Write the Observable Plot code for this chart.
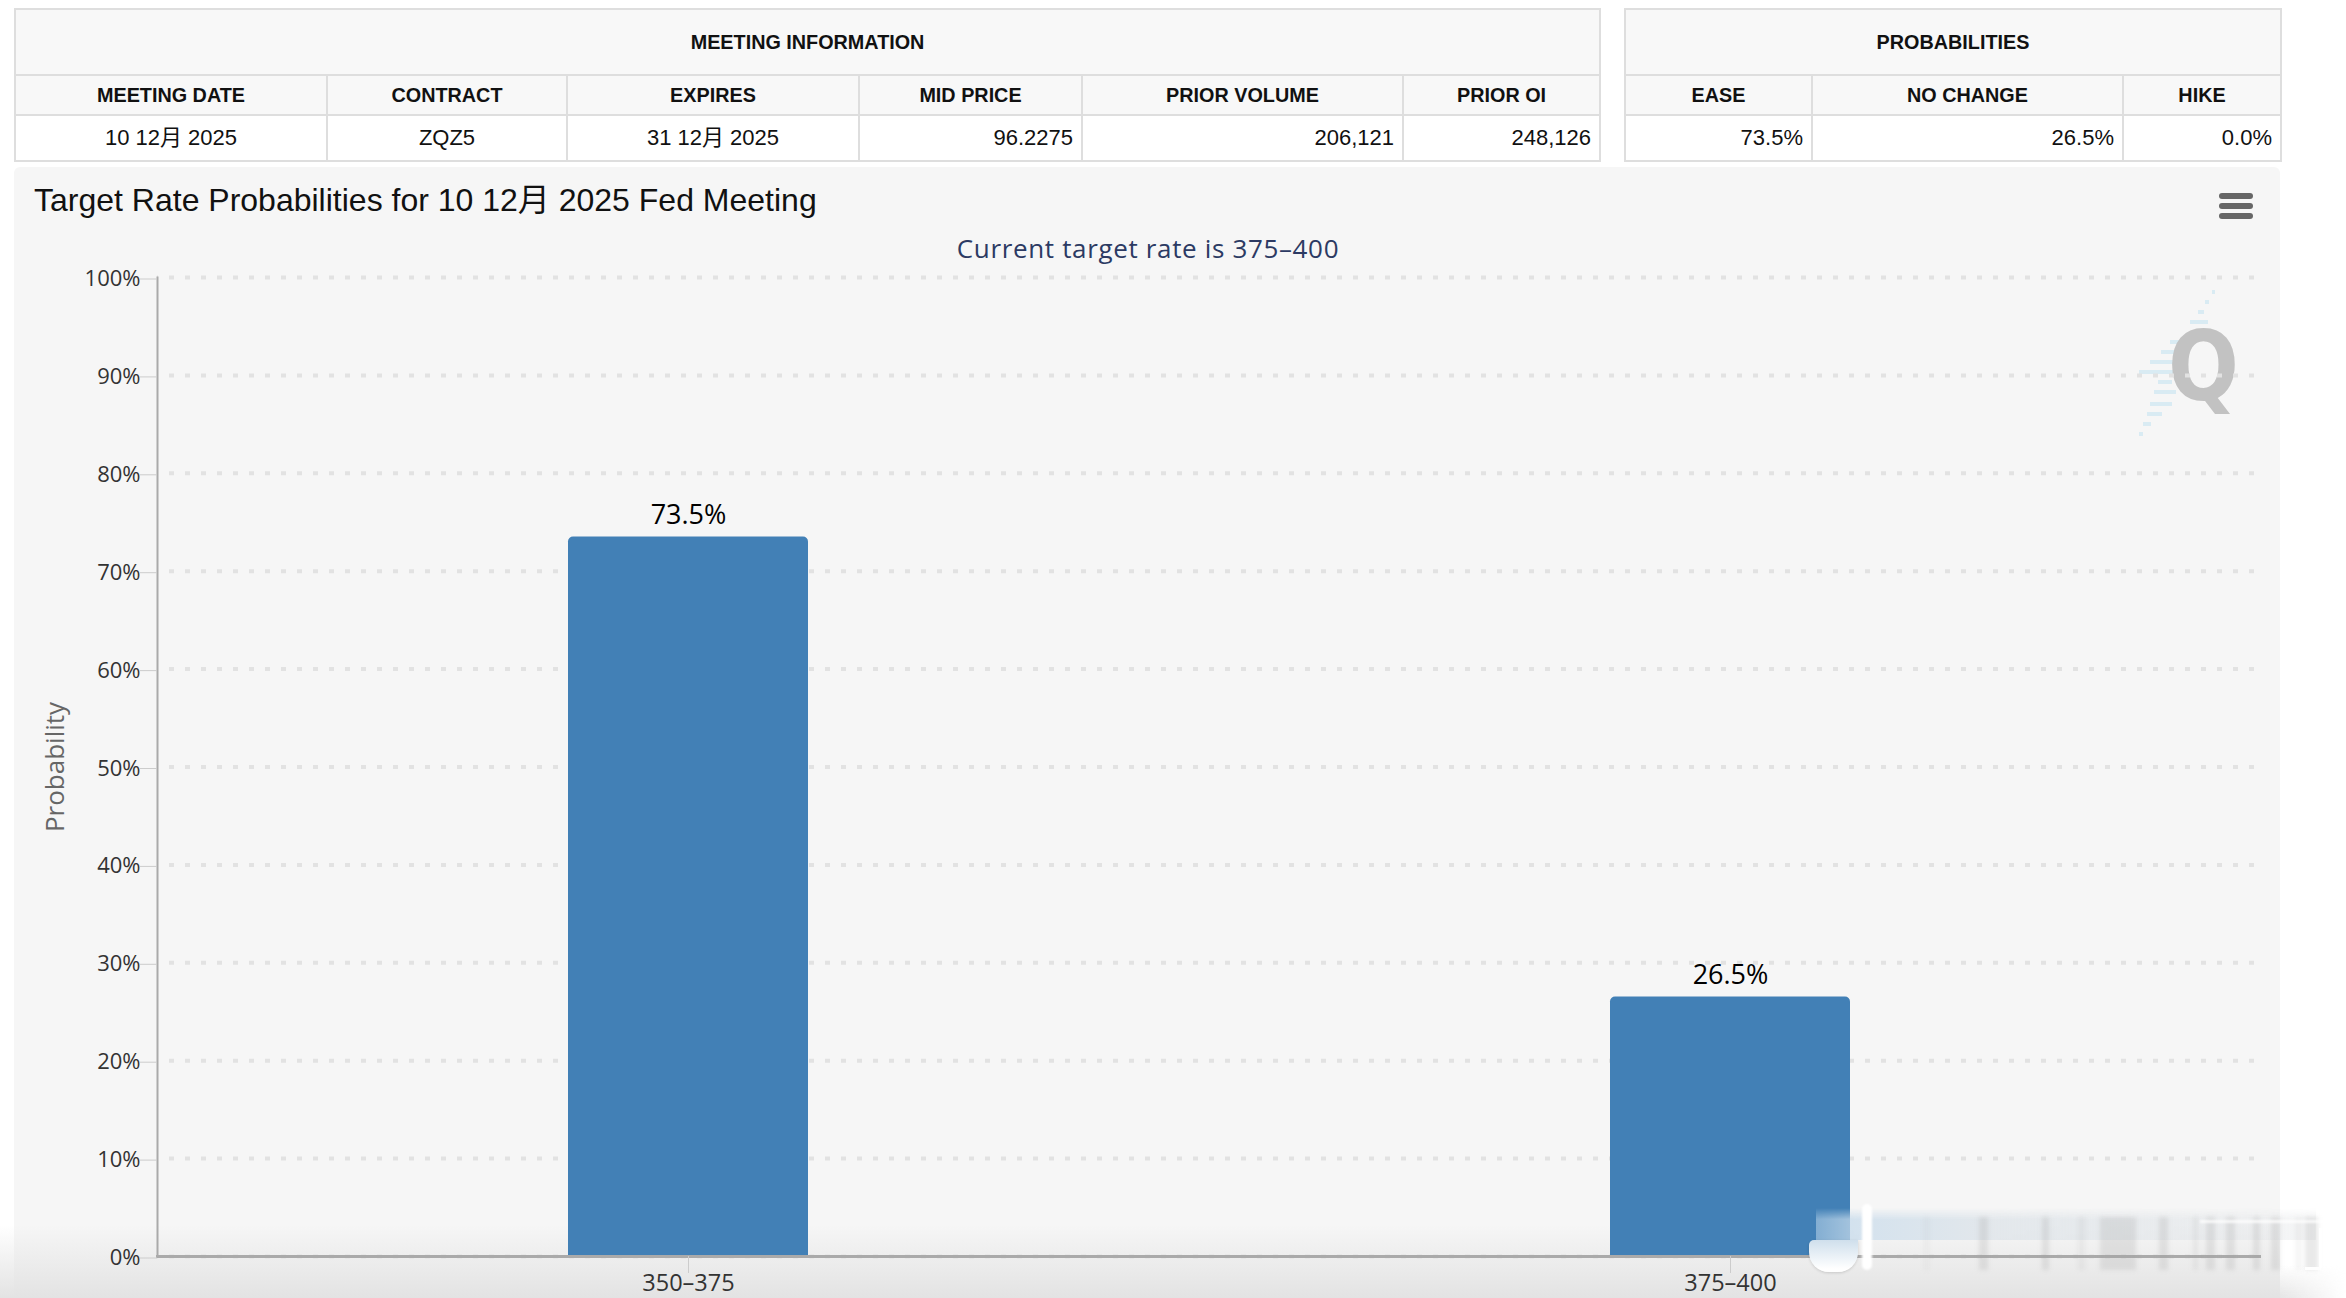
<!DOCTYPE html>
<html><head><meta charset="utf-8">
<script src="https://cdn.jsdelivr.net/npm/d3@7"></script>
<script src="https://cdn.jsdelivr.net/npm/@observablehq/plot@0.6"></script>
<style>
html,body{margin:0;padding:0;background:#fff;width:2346px;height:1298px;overflow:hidden}
body{position:relative;font-family:"Liberation Sans","Noto Sans CJK SC",sans-serif}
table{position:absolute;top:8px;height:152px;border-collapse:collapse;table-layout:fixed;color:#111;font-size:19.8px;box-sizing:border-box}
td,th{border:2px solid #dedede;padding:0 8px;overflow:hidden;white-space:nowrap}
th{background:#f8f8f8;font-weight:bold;text-align:center;line-height:22px}
td{background:#fff;font-size:22px;line-height:22px;vertical-align:middle;padding-bottom:1px}
td.r{text-align:right}td.c{text-align:center}
#panel{position:absolute;left:14px;top:167px;width:2266px;height:1131px;background:#f6f6f6;border-radius:6px 6px 0 0}
#title{position:absolute;left:34px;top:180px;font-size:32px;line-height:40px;color:#111;white-space:nowrap}
#sub{position:absolute;left:0;width:2296px;top:231px;text-align:center;font:26px/34px "Open Sans",sans-serif;letter-spacing:.65px;color:#2c3a63;white-space:nowrap}
#menu i{position:absolute;left:2219px;width:34px;height:6px;border-radius:3px;background:#666}
#wm{position:absolute;left:2168px;top:316px;font:bold 86px/100px "DejaVu Sans",sans-serif;color:#c2c2c2;transform:scale(.97,1.12);transform-origin:0 50%}
.st{position:absolute;height:4px;background:#d9ebf3}
#chart{position:absolute;left:0;top:0}
#chart svg{background:transparent;display:block}
#fade{position:absolute;left:0;top:1225px;width:2280px;height:73px;background:linear-gradient(to bottom,rgba(227,227,227,0),rgba(227,227,227,1))}
#fade2{position:absolute;left:2280px;top:1265px;width:66px;height:33px;background:linear-gradient(to bottom,rgba(229,229,229,0),rgba(229,229,229,1));-webkit-mask-image:linear-gradient(to right,#000,transparent)}
.bl{position:absolute;filter:blur(2px)}
</style></head><body>
<div id="panel"></div>
<div id="fade"></div>
<div id="fade2"></div>
<div id="wm">Q</div>
<div id="title">Target Rate Probabilities for 10 12月 2025 Fed Meeting</div>
<div id="sub">Current target rate is 375–400</div>
<div id="menu"><i style="top:193px"></i><i style="top:203px"></i><i style="top:213px"></i></div>
<div id="chart"></div>
<div id="smear"></div>
<script>
// Chart data
const categories = ["350–375", "375–400"];
const probabilities = [73.5, 26.5];
const yTicks = [0, 10, 20, 30, 40, 50, 60, 70, 80, 90, 100];

// Table data
const infoHeaders = ["MEETING DATE", "CONTRACT", "EXPIRES", "MID PRICE", "PRIOR VOLUME", "PRIOR OI"];
const infoValues = ["10 12月 2025", "ZQZ5", "31 12月 2025", "96.2275", "206,121", "248,126"];
const infoAlign = ["c", "c", "c", "r", "r", "r"];
const infoWidths = [312, 240, 292, 223, 321, 197];
const probHeaders = ["EASE", "NO CHANGE", "HIKE"];
const probValues = ["73.5%", "26.5%", "0.0%"];
const probAlign = ["r", "r", "r"];
const probWidths = [187, 311, 158];

function table(left, title, heads, vals, aligns, widths) {
  const t = document.createElement("table");
  t.style.left = left + "px";
  t.style.width = d3.sum(widths) + "px";
  t.innerHTML =
    `<colgroup>${widths.map(w => `<col style="width:${w}px">`).join("")}</colgroup>` +
    `<tr style="height:66px"><th colspan="${heads.length}">${title}</th></tr>` +
    `<tr style="height:40px">${heads.map(h => `<th>${h}</th>`).join("")}</tr>` +
    `<tr style="height:46px">${vals.map((v, i) => `<td class="${aligns[i]}">${v}</td>`).join("")}</tr>`;
  document.body.appendChild(t);
}
table(14, "MEETING INFORMATION", infoHeaders, infoValues, infoAlign, infoWidths);
table(1624, "PROBABILITIES", probHeaders, probValues, probAlign, probWidths);

// Watermark streaks
const wmStreaks = [[290,2212,3],[300,2205,4],[310,2198,6],[320,2190,18],[340,2170,11],[350,2161,15],[360,2150,26],[370,2139,34],[380,2158,14],[390,2154,22],[402,2150,22],[412,2147,15],[422,2143,8],[432,2139,4]];
wmStreaks.forEach(([y, x, w]) => {
  const s = document.createElement("div");
  s.className = "st"; s.style.cssText = `left:${x}px;top:${y}px;width:${w}px`;
  document.body.insertBefore(s, document.getElementById("wm"));
});

const rows = categories.map((c, i) => ({category: c, probability: probabilities[i]}));
const font = '"Open Sans", sans-serif';
const plot = Plot.plot({
  width: 2346, height: 1298,
  marginTop: 277, marginBottom: 42, marginLeft: 157, marginRight: 87,
  style: {background: "transparent", fontFamily: font},
  x: {domain: categories, range: [167, 2251], paddingInner: 0.77, paddingOuter: 0.385, label: null},
  y: {domain: [0, 100], label: null},
  marks: [
    Plot.ruleY(yTicks, {stroke: "#e2e2e2", strokeWidth: 4, strokeDasharray: "5 11", strokeDashoffset: -12}),
    Plot.barY(rows, {x: "category", y: "probability", fill: "#4280b6", ry1: 5}),
    Plot.frame({anchor: "left", stroke: "#aaa", strokeWidth: 2}),
    Plot.frame({anchor: "bottom", stroke: "#aaa", strokeWidth: 3}),
    Plot.axisY({
      ticks: yTicks, tickFormat: d => d + "%", tickSize: 17, tickPadding: 0, stroke: "#ccc",
      fill: "#333", fontSize: 22, dy: 1.5, label: null
    }),
    Plot.axisX({tickSize: 17, tickPadding: 1, stroke: "#ccc", fill: "#333", fontSize: 23.5, label: null}),
    Plot.text(["Probability"], {frameAnchor: "left", textAnchor: "middle", rotate: -90, dx: -102, fill: "#666", fontSize: 26}),
    Plot.text(rows, {x: "category", y: "probability", text: d => d.probability.toFixed(1) + "%",
      dy: -22, fill: "#000", fontSize: 27, lineAnchor: "middle"})
  ]
});
document.getElementById("chart").appendChild(plot);

// Blurred retouch smear at the lower right of the picture
const smearBars = [[1923,7,.07],[1979,9,.24],[2042,7,.24],[2078,7,.12],[2100,36,.24],[2159,9,.24],[2193,5,.16],[2206,9,.24],[2226,9,.24],[2253,7,.24],[2271,9,.24],[2296,5,.12],[2305,13,.24]];
const smear = document.getElementById("smear");
smear.innerHTML =
  `<div style="position:absolute;left:1816px;top:1208px;width:500px;height:32px;background:linear-gradient(to right,rgba(175,205,230,.6),rgba(205,222,236,.8) 10%,rgba(222,228,233,.8) 35%,rgba(226,228,230,.35) 100%);-webkit-mask-image:linear-gradient(to bottom,transparent,#000 35%)"></div>` +
  smearBars.map(([x, w, a]) => `<div class="bl" style="left:${x}px;top:1217px;width:${w}px;height:53px;background:rgba(165,165,165,${a})"></div>`).join("") +
  `<div style="position:absolute;left:1809px;top:1240px;width:49px;height:32px;background:linear-gradient(to bottom,#cfdfec,#fff 90%);border-radius:5px 0 20px 20px;box-shadow:0 1px 3px rgba(0,0,0,.15)"></div>` +
  `<div class="bl" style="left:1862px;top:1204px;width:10px;height:66px;background:#fff;border-radius:5px;filter:blur(1px)"></div>` +
  `<div style="position:absolute;left:2200px;top:1220px;width:126px;height:3px;background:rgba(255,255,255,.8);filter:blur(1px)"></div>` +
  `<div style="position:absolute;left:2319px;top:1228px;width:3px;height:40px;background:#fff"></div>` +
  `<div style="position:absolute;left:2305px;top:1267px;width:16px;height:3px;background:#fff"></div>`;
</script>
</body></html>
